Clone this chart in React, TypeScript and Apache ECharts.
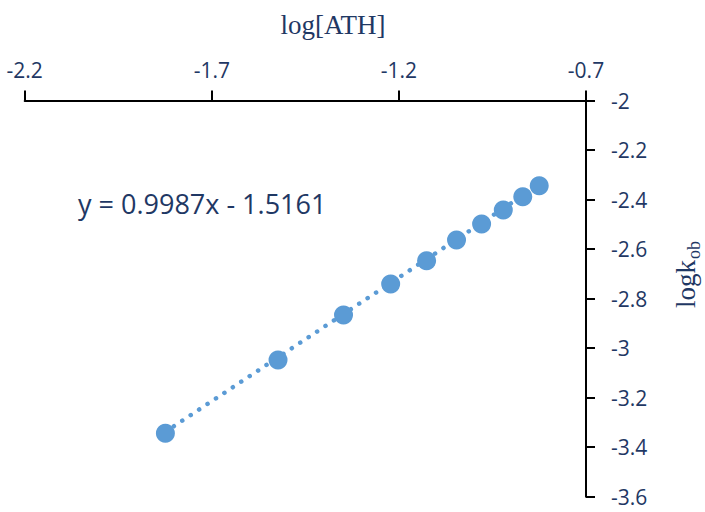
import React, { useEffect, useRef } from "react";
import * as echarts from "echarts";

const logATH = [-1.824, -1.523, -1.348, -1.222, -1.126, -1.046, -0.979, -0.921, -0.869, -0.825];
const logKob = [-3.344, -3.048, -2.866, -2.741, -2.647, -2.563, -2.499, -2.442, -2.389, -2.344];
const trendX = [-1.824, -0.825];
const trendY = [-3.338, -2.340];
const equationText = "y = 0.9987x - 1.5161";
const xTitle = "log[ATH]";
const yTitleMain = "logk";
const yTitleSub = "ob";

const NAVY = "#1F3864";
const BLUE = "#5B9BD5";

export default function App() {
  const ref = useRef<HTMLDivElement>(null);
  useEffect(() => {
    if (!ref.current) return;
    const chart = echarts.init(ref.current, undefined, { renderer: "svg" });
    const points = logATH.map((x, i) => [x, logKob[i]]);
    const trend = trendX.map((x, i) => [x, trendY[i]]);
    chart.setOption({
      animation: false,
      backgroundColor: "#ffffff",
      grid: { left: 24.7, right: 119, top: 100.5, bottom: 15.3, containLabel: false },
      xAxis: {
        type: "value",
        position: "top",
        min: -2.2,
        max: -0.7,
        interval: 0.5,
        axisLine: { show: true, onZero: false, lineStyle: { color: "#000", width: 2 } },
        axisTick: { show: true, inside: false, length: 10, lineStyle: { color: "#000", width: 2 } },
        splitLine: { show: false },
        axisLabel: {
          margin: 20,
          color: NAVY,
          fontFamily: "Open Sans",
          fontSize: 21,
          formatter: (v: number) => String(Math.round(v * 10) / 10),
        },
      },
      yAxis: {
        type: "value",
        position: "right",
        min: -3.6,
        max: -2,
        interval: 0.2,
        axisLine: { show: true, onZero: false, lineStyle: { color: "#000", width: 2 } },
        axisTick: { show: true, inside: false, length: 9, lineStyle: { color: "#000", width: 2 } },
        splitLine: { show: false },
        axisLabel: {
          margin: 25,
          color: NAVY,
          fontFamily: "Open Sans",
          fontSize: 21,
          formatter: (v: number) => String(Math.round(v * 10) / 10),
        },
      },
      series: [
        {
          type: "line",
          data: trend,
          showSymbol: false,
          symbol: "none",
          z: 1,
          silent: true,
          lineStyle: { color: BLUE, width: 4.5, type: [0.1, 10], cap: "round" },
        },
        {
          type: "scatter",
          data: points,
          symbol: "circle",
          symbolSize: 19,
          z: 2,
          silent: true,
          itemStyle: { color: BLUE, opacity: 1 },
        },
      ],
      graphic: [
        {
          type: "text",
          x: 78,
          y: 203,
          style: {
            text: equationText,
            fill: NAVY,
            fontFamily: "Open Sans",
            fontSize: 27,
            align: "left",
            verticalAlign: "middle",
          },
        },
        {
          type: "text",
          x: 333,
          y: 25,
          style: {
            text: xTitle,
            fill: NAVY,
            fontFamily: "Liberation Serif",
            fontSize: 27,
            align: "center",
            verticalAlign: "middle",
          },
        },
        {
          type: "text",
          x: 686,
          y: 308,
          rotation: Math.PI / 2,
          style: {
            text: yTitleMain,
            fill: NAVY,
            fontFamily: "Liberation Serif",
            fontSize: 27,
            align: "left",
            verticalAlign: "middle",
          },
        },
        {
          type: "text",
          x: 694,
          y: 259,
          rotation: Math.PI / 2,
          style: {
            text: yTitleSub,
            fill: NAVY,
            fontFamily: "Liberation Serif",
            fontSize: 18,
            align: "left",
            verticalAlign: "middle",
          },
        },
      ],
    });
    return () => chart.dispose();
  }, []);
  return <div ref={ref} style={{ width: 705, height: 512, position: "absolute", left: 0, top: 0 }} />;
}
